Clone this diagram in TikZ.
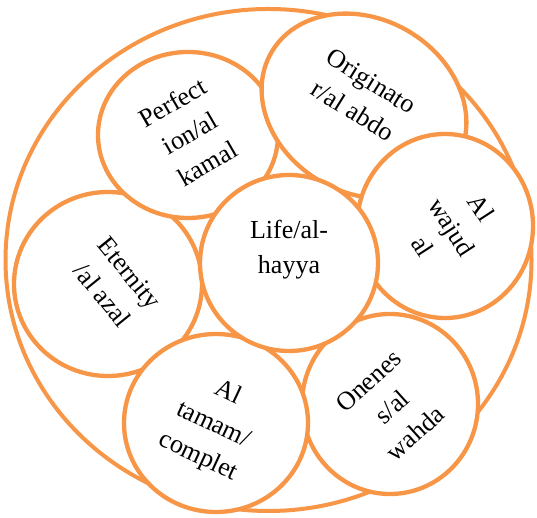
\documentclass[tikz,border=0pt]{standalone}
\usepackage{fontspec}
\setmainfont{Liberation Serif}
\definecolor{orng}{HTML}{F79646}
\begin{document}
\begin{tikzpicture}[x=1pt,y=1pt,
  ring/.style={draw=orng, line width=4.3pt, fill=white},
  lbl/.style={align=center, font=\fontsize{26}{35}\selectfont, inner sep=0pt, text=black}]
\useasboundingbox (0,0) rectangle (537,518);
\fill[white] (0,0) rectangle (537,518);
% outer ring
\draw[draw=orng, line width=4pt] (268.5,258) ellipse [x radius=263, y radius=251];
% petals
\draw[ring] (108,234) ellipse [x radius=94, y radius=92];
\draw[ring] (188,383) ellipse [x radius=90, y radius=83];
\draw[ring, rotate around={-30:(364,412)}] (364,412) ellipse [x radius=107, y radius=87];
\draw[ring] (445,292) ellipse [x radius=88, y radius=92];
\draw[ring] (390,114) ellipse [x radius=88, y radius=90];
\draw[ring] (216,95) ellipse [x radius=92, y radius=89];
\draw[ring] (289,255) ellipse [x radius=89, y radius=88];
% labels
\node[lbl, rotate=30] (tperf) at (190,385) {Perfect\\ion/al\\kamal};
\node[lbl, rotate=-32] (torig) at (362,422) {Originato\\r/al abdo};
\node[lbl, rotate=-57] (twaj) at (452,291) {Al\\wajud\\al};
\node[lbl, rotate=-51] (tete) at (116,234) {Eternity\\/al azal};
\node[lbl, rotate=-25] (ttam) at (213,93) {Al\\tamam/\\complet};
\node[lbl, rotate=42] (tone) at (392,111) {Onenes\\s/al\\wahda};
\node[lbl] (tlife) at (289,268) {Life/al-\\hayya};
\end{tikzpicture}
\end{document}
